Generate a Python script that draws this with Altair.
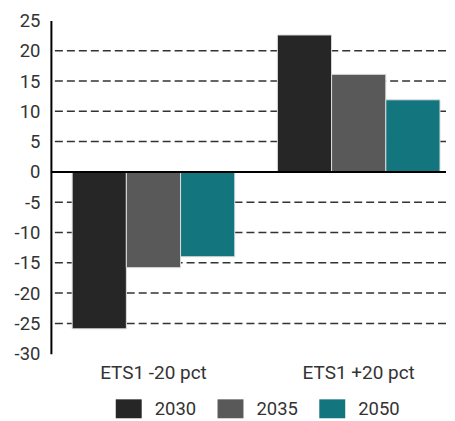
import altair as alt
import pandas as pd

scenarios = ["ETS1 -20 pct", "ETS1 +20 pct"]
years = ["2030", "2035", "2050"]
vals_2030 = [-25.9, 22.6]
vals_2035 = [-15.8, 16.1]
vals_2050 = [-14.0, 11.9]
colors = ["#262626", "#595959", "#13767E"]
y_ticks = [-30, -25, -20, -15, -10, -5, 0, 5, 10, 15, 20, 25]
grid_vals = [-25, -20, -15, -10, -5, 5, 10, 15, 20]

rows = []
for yr, vals in zip(years, [vals_2030, vals_2035, vals_2050]):
    for sc, v in zip(scenarios, vals):
        rows.append({"scenario": sc, "year": yr, "value": v})
df = pd.DataFrame(rows)

FONT = "Roboto"

y_scale = alt.Scale(domain=[-30, 25], nice=False)


def y_axis():
    return alt.Axis(
        title=None, values=y_ticks, grid=False, ticks=False, tickSize=0,
        domainColor="black", domainWidth=2,
        labelFont=FONT, labelFontSize=18.5, labelColor="#333333", labelPadding=11,
        labelExpr="datum.value + ''",
    )


grid = alt.Chart(pd.DataFrame({"g": grid_vals})).mark_rule(
    color="#333333", strokeWidth=1.5, strokeDash=[8, 4]
).encode(y=alt.Y("g:Q", axis=y_axis(), scale=y_scale))

bars = alt.Chart(df).mark_bar(stroke="#dddddd", strokeWidth=1).encode(
    x=alt.X(
        "scenario:N",
        sort=scenarios,
        scale=alt.Scale(paddingInner=0.2076, paddingOuter=0.0664, align=0.78),
        axis=alt.Axis(
            title=None, labelAngle=0, domain=False, ticks=False,
            labelFont=FONT, labelFontSize=19, labelColor="#333333", labelPadding=10,
        ),
    ),
    xOffset=alt.XOffset("year:N", sort=years),
    y=alt.Y("value:Q", scale=y_scale, axis=y_axis()),
    color=alt.Color(
        "year:N",
        sort=years,
        scale=alt.Scale(domain=years, range=colors),
        legend=alt.Legend(
            title=None, orient="none", direction="horizontal",
            legendX=65, legendY=376,
            symbolType="M-1,-0.73H1V0.73H-1Z", symbolSize=676,
            symbolStrokeWidth=0, symbolOpacity=1,
            labelFont=FONT, labelFontSize=18.5, labelColor="#333333",
            labelOffset=13, columnPadding=21, padding=0,
        ),
    ),
)

zero = alt.Chart(pd.DataFrame({"z": [0]})).mark_rule(color="black", strokeWidth=2).encode(
    y=alt.Y("z:Q", scale=y_scale, axis=y_axis())
)

chart = alt.layer(grid, bars, zero).properties(
    width=396, height=334,
    padding={"left": 6, "top": 3, "right": 0, "bottom": 0},
).configure_view(stroke=None)

chart.save("out.html", embed_options={"renderer": "svg", "actions": False})
